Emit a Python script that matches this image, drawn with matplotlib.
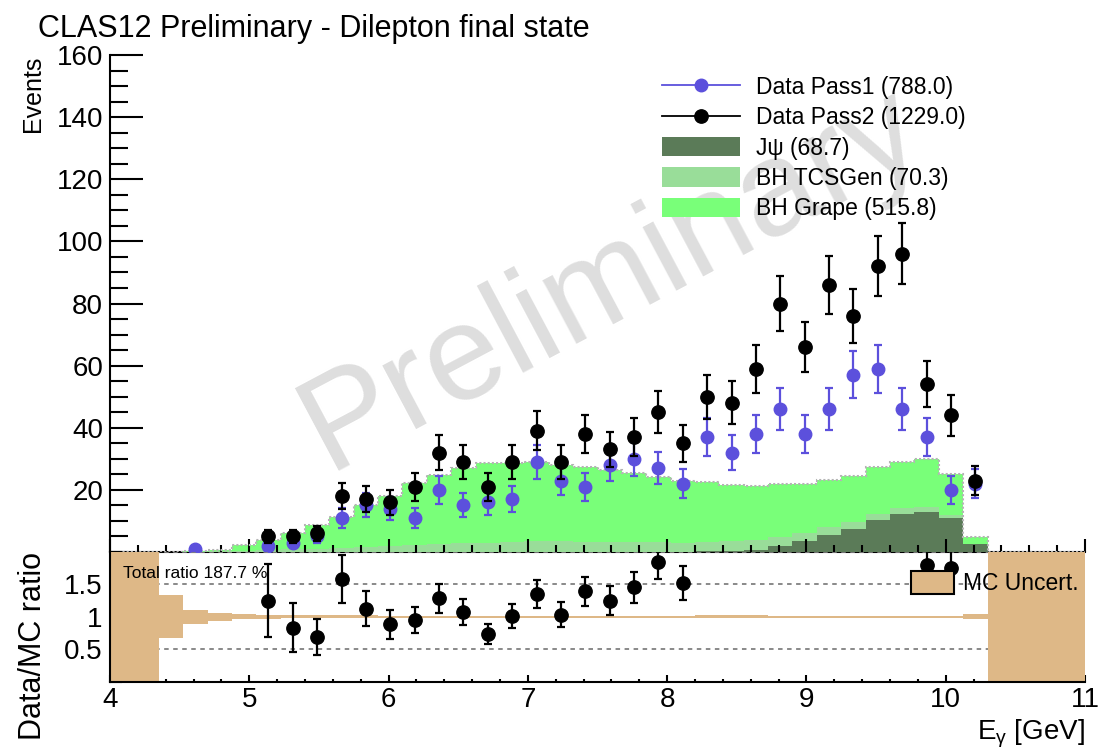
import numpy as np
import matplotlib
matplotlib.use('Agg')
import matplotlib.pyplot as plt
from matplotlib.lines import Line2D
from matplotlib.patches import Patch
from matplotlib.ticker import MultipleLocator, FixedLocator

plt.rcParams['font.family'] = ['Liberation Sans', 'DejaVu Sans']
plt.rcParams['mathtext.fontset'] = 'custom'
plt.rcParams['mathtext.rm'] = 'Liberation Sans'
plt.rcParams['mathtext.it'] = 'Liberation Sans:italic'

# photon energy binning: 40 bins between 4 and 11 GeV
e_min, e_max, n_bins = 4.0, 11.0, 40

# event counts per bin
pass1 = [0, 0, 0, 1, 0, 0, 2, 3, 5, 11,
         15, 14, 11, 20, 15, 16, 17, 29, 23, 21,
         28, 30, 27, 22, 37, 32, 38, 46, 38, 46,
         57, 59, 46, 37, 20, 22, 0, 0, 0, 0]
pass2 = [0, 0, 0, 0, 0, 0, 5, 5, 6, 18,
         17, 16, 21, 32, 29, 21, 29, 39, 29, 38,
         33, 37, 45, 35, 50, 48, 59, 80, 66, 86,
         76, 92, 96, 54, 44, 23, 0, 0, 0, 0]

# simulated contributions (stacked)
jpsi = [0, 0, 0, 0, 0, 0, 0, 0, 0, 0,
        0, 0, 0, 0, 0, 0, 0, 0, 0, 0,
        0, 0, 0, 0.1, 0.2, 0.3, 0.8, 1.9, 3.5, 5.6,
        7.5, 10.3, 12.3, 12.9, 10.8, 2.5, 0, 0, 0, 0]
bh_tcsgen = [0, 0, 0, 0.1, 0.2, 0.4, 0.7, 0.9, 1.1, 1.3,
             1.6, 1.9, 2.2, 2.5, 2.8, 3.0, 3.2, 3.4, 3.4, 3.3,
             3.2, 3.1, 3.1, 2.8, 3.0, 3.2, 3.0, 2.8, 2.6, 2.3,
             2.1, 2.0, 2.0, 1.7, 1.2, 0.2, 0, 0, 0, 0]
bh_grape = [0, 0, 0, 0.2, 0.5, 2.0, 3.3, 5.1, 7.6, 10.1,
            13.5, 16.2, 19.9, 22.4, 24.2, 25.7, 25.5, 25.5, 24.7, 24.0,
            23.2, 22.3, 21.2, 20.1, 19.3, 18.2, 17.5, 17.2, 15.8, 15.3,
            14.8, 15.0, 14.8, 15.4, 13.2, 2.1, 0, 0, 0, 0]

# relative MC statistical uncertainty (nan = no MC in bin)
nan = np.nan
mc_rel_err = [nan, nan, 0.33, 0.11, 0.06, 0.04, 0.028, 0.024, 0.022, 0.02,
              0.02, 0.019, 0.018, 0.018, 0.018, 0.018, 0.018, 0.018, 0.018, 0.018,
              0.018, 0.018, 0.018, 0.018, 0.02, 0.02, 0.02, 0.019, 0.018, 0.018,
              0.017, 0.017, 0.017, 0.017, 0.018, 0.035, nan, nan, nan, nan]

c_pass1 = '#5c50dc'
c_pass2 = 'black'
c_jpsi = '#5b7b58'
c_tcsgen = '#99dd99'
c_grape = '#79ff79'
c_unc = '#deb887'

edges = np.linspace(e_min, e_max, n_bins + 1)
centers = 0.5 * (edges[:-1] + edges[1:])
pass1 = np.array(pass1, dtype=float)
pass2 = np.array(pass2, dtype=float)
jpsi = np.array(jpsi)
bh_tcsgen = np.array(bh_tcsgen)
bh_grape = np.array(bh_grape)
mc_rel_err = np.array(mc_rel_err)

lvl1 = jpsi
lvl2 = jpsi + bh_tcsgen
mc_total = lvl2 + bh_grape

W, H = 1099, 748
fig = plt.figure(figsize=(W / 100, H / 100), dpi=100)
ax = fig.add_axes([110 / W, 1 - 552 / H, 975 / W, 497 / H])
axr = fig.add_axes([110 / W, 1 - 681.5 / H, 975 / W, 129.5 / H])
for a in (ax, axr):
    a.set_facecolor('none')

# ---- upper panel: stacked MC + data ----
ax.stairs(lvl1, edges, baseline=0, fill=True, color=c_jpsi, lw=0, zorder=1.5)
ax.stairs(lvl2, edges, baseline=lvl1, fill=True, color=c_tcsgen, lw=0, zorder=1.5)
ax.stairs(mc_total, edges, baseline=lvl2, fill=True, color=c_grape, lw=0, zorder=1.5)
ax.stairs(mc_total, edges, baseline=None, color='#b4b4b4', lw=1.5,
          linestyle=(0, (1, 1)), zorder=1.6)

m1 = pass1 > 0
ax.errorbar(centers[m1], pass1[m1], yerr=np.sqrt(pass1[m1]), fmt='o', color=c_pass1,
            ms=9, elinewidth=1.6, capsize=3, capthick=1.6, zorder=4)
m2 = pass2 > 0
ax.errorbar(centers[m2], pass2[m2], yerr=np.sqrt(pass2[m2]), fmt='o', color=c_pass2,
            ms=9.6, elinewidth=1.6, capsize=3, capthick=1.6, zorder=5)

ax.set_xlim(e_min, e_max)
ax.set_ylim(0, 160)
for s in ('top', 'right'):
    ax.spines[s].set_visible(False)
ax.spines['left'].set_linewidth(1.5)
ax.spines['bottom'].set_linewidth(1.5)
ax.spines['bottom'].set_zorder(1.0)
ax.yaxis.set_major_locator(FixedLocator([20, 40, 60, 80, 100, 120, 140, 160]))
ax.yaxis.set_minor_locator(MultipleLocator(5))
ax.xaxis.set_major_locator(MultipleLocator(1))
ax.xaxis.set_minor_locator(MultipleLocator(0.2))
ax.tick_params(axis='y', which='major', direction='in', length=23.5, width=1.5,
               labelsize=20, pad=5)
ax.tick_params(axis='y', which='minor', direction='in', length=13, width=1.5)
ax.tick_params(axis='x', which='major', direction='in', length=9.4, width=1.5,
               labelbottom=False)
ax.tick_params(axis='x', which='minor', direction='in', length=5, width=1.5)

handles = [
    Line2D([], [], color=c_pass1, marker='o', ms=9, lw=1.3),
    Line2D([], [], color=c_pass2, marker='o', ms=9.6, lw=1.3),
    Patch(facecolor=c_jpsi, edgecolor='none'),
    Patch(facecolor=c_tcsgen, edgecolor='none'),
    Patch(facecolor=c_grape, edgecolor='none'),
]
labels = [
    f'Data Pass1 ({pass1.sum():.1f})',
    f'Data Pass2 ({pass2.sum():.1f})',
    f'Jψ ({jpsi.sum():.1f})',
    f'BH TCSGen ({bh_tcsgen.sum():.1f})',
    f'BH Grape ({bh_grape.sum():.1f})',
]
ax.legend(handles, labels, loc='upper left', bbox_to_anchor=(662 / W, 1 - 76 / H),
          bbox_transform=fig.transFigure, frameon=False, fontsize=16.5,
          handlelength=3.4, handleheight=0.92, handletextpad=0.72,
          labelspacing=0.32, borderpad=0, borderaxespad=0)

# watermark
ax.text(612 / W, 1 - 280 / H, 'Preliminary', transform=fig.transFigure,
        rotation=28, fontsize=98, color='#dedede', ha='center', va='center',
        zorder=0.5)

# ---- lower panel: data / MC ratio ----
r_top = 2.0
lo = np.where(np.isnan(mc_rel_err), 0.0, 1 - mc_rel_err)
hi = np.where(np.isnan(mc_rel_err), r_top, 1 + mc_rel_err)
for yl in (0.5, 1.5, 2.0):
    axr.axhline(yl, color='#808080', lw=1.3, linestyle=(0, (2.5, 2.5)), zorder=1)
axr.stairs(hi, edges, baseline=lo, fill=True, color=c_unc, lw=0, zorder=2)

with np.errstate(divide='ignore', invalid='ignore'):
    ratio = np.where(mc_total > 0, pass2 / mc_total, np.nan)
    ratio_err = np.where(mc_total > 0, np.sqrt(pass2) / mc_total, np.nan)
mr = (pass2 > 0) & (ratio <= r_top)
axr.errorbar(centers[mr], ratio[mr], yerr=ratio_err[mr], fmt='o', color='black',
             ms=9.6, elinewidth=1.6, capsize=3, capthick=1.6, zorder=4)

axr.set_xlim(e_min, e_max)
axr.set_ylim(0, r_top)
for s in ('top', 'right'):
    axr.spines[s].set_visible(False)
axr.spines['left'].set_linewidth(1.5)
axr.spines['bottom'].set_linewidth(1.5)
axr.yaxis.set_major_locator(FixedLocator([0.5, 1.0, 1.5]))
axr.yaxis.set_minor_locator(MultipleLocator(0.0625))
axr.yaxis.set_major_formatter(plt.FuncFormatter(lambda v, p: f'{v:g}'))
axr.xaxis.set_major_locator(MultipleLocator(1))
axr.xaxis.set_minor_locator(MultipleLocator(0.2))
axr.tick_params(axis='y', which='major', direction='in', length=17, width=1.5,
                labelsize=20, pad=5.4)
axr.tick_params(axis='y', which='minor', direction='in', length=8.6, width=1.5)
axr.tick_params(axis='x', which='major', direction='in', length=5, width=1.5,
                labelsize=20, pad=4)
axr.tick_params(axis='x', which='minor', direction='in', length=2.3, width=1.5)

axr.legend([Patch(facecolor=c_unc, edgecolor='black', lw=1.5)], ['MC Uncert.'],
           loc='center left', bbox_to_anchor=(911 / W, 1 - 583 / H),
           bbox_transform=fig.transFigure, frameon=False, fontsize=16.5,
           handlelength=1.88, handleheight=1.22, handletextpad=0.4,
           borderpad=0, borderaxespad=0).set_zorder(6)

fig.text(123 / W, 1 - 573 / H, f'Total ratio {100 * pass2.sum() / mc_total.sum():.1f} %',
         fontsize=12.5, va='center', ha='left')

# ---- titles and axis labels ----
fig.text(38 / W, 1 - 37 / H, 'CLAS12 Preliminary - Dilepton final state',
         fontsize=22, va='baseline', ha='left')
fig.text(33 / W, 1 - 56 / H, 'Events', rotation=90, fontsize=18, ha='center', va='top')
fig.text(33 / W, 1 - 552 / H, 'Data/MC ratio', rotation=90, fontsize=22,
         ha='center', va='top')
fig.text(1085 / W, 1 - 739 / H, r'E$_{\mathrm{\gamma}}$ [GeV]', fontsize=20,
         ha='right', va='baseline')

fig.savefig('out.png', dpi=100)
